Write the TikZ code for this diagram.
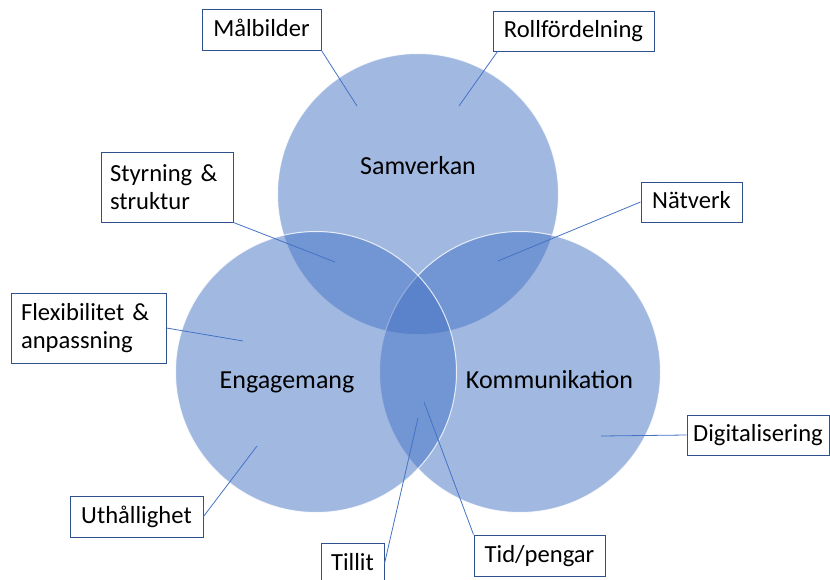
\documentclass[tikz,border=0pt]{standalone}
\usepackage{fontspec}
\setmainfont{Carlito}
\definecolor{accent}{HTML}{4472C4}
\definecolor{boxline}{HTML}{2F528F}
\begin{document}
\begin{tikzpicture}[x=1pt,y=-1pt,
  venn/.style={circle, fill=accent, fill opacity=0.5, draw=white, draw opacity=0.8, line width=1pt, minimum size=281pt, inner sep=0pt},
  lbl/.style={font=\fontsize{26}{30}\selectfont, text=black, anchor=base, inner sep=0pt},
  tagbox/.style={draw=boxline, line width=1pt, fill=white, inner sep=0pt, font=\fontsize{24.6}{28}\selectfont, text height=17pt, text depth=4pt},
  tagbox2/.style={draw=boxline, line width=1pt, fill=white, inner ysep=0pt, align=left, font=\fontsize{24.6}{28}\selectfont},
  conn/.style={draw=accent, line width=0.8pt}]
\useasboundingbox (0,0) rectangle (830,579);
% circles
\node[venn] (top) at (418,194) {};
\node[venn] (right) at (520,372) {};
\node[venn] (left) at (316,372) {};
\node[lbl] (ltop) at (418,174) {Samverkan};
\node[lbl] (lleft) at (287,388) {Engagemang};
\node[lbl] (lright) at (549.5,388) {Kommunikation};
% anchor points inside circles
\coordinate (pmb) at (357,106);
\coordinate (prf) at (459,106);
\coordinate (pst) at (335,262);
\coordinate (pnv) at (498,261);
\coordinate (pfx) at (243,341);
\coordinate (put) at (257,446);
\coordinate (pti) at (418,418);
\coordinate (ptp) at (424,402);
\coordinate (pdg) at (601,436);
% boxes
\node[tagbox, minimum width=119pt, minimum height=41pt] (mb) at (261.5,29.5) {Målbilder};
\node[tagbox, minimum width=161pt, minimum height=40pt] (rf) at (573.5,31) {Rollfördelning};
\node[tagbox2, text width=114pt, inner xsep=9pt, minimum height=70pt] (st) at (167,187) {Styrning \&\\struktur};
\node[tagbox, minimum width=101pt, minimum height=40pt] (nv) at (691.5,202) {Nätverk};
\node[tagbox2, text width=135pt, inner xsep=10pt, minimum height=70pt] (fx) at (88.5,328) {Flexibilitet \&\\anpassning};
\node[tagbox, minimum width=133pt, minimum height=41pt] (ut) at (136.5,516.5) {Uthållighet};
\node[tagbox, minimum width=63pt, minimum height=41pt] (ti) at (352.5,563.5) {Tillit};
\node[tagbox, minimum width=131pt, minimum height=41pt] (tp) at (539.5,555.5) {Tid/pengar};
\node[tagbox, minimum width=142pt, minimum height=40pt] (dg) at (758,435) {Digitalisering};
% connectors
\draw[conn] (mb.south east) -- (pmb);
\draw[conn] ([xshift=5pt]rf.south west) -- (prf);
\draw[conn] (st.south east) -- (pst);
\draw[conn] (nv.west) -- (pnv);
\draw[conn] (fx.east) -- (pfx);
\draw[conn] (ut.east) -- (put);
\draw[conn] (ti.east) -- (pti);
\draw[conn] (tp.north west) -- (ptp);
\draw[conn] (dg.west) -- (pdg);
\end{tikzpicture}
\end{document}
